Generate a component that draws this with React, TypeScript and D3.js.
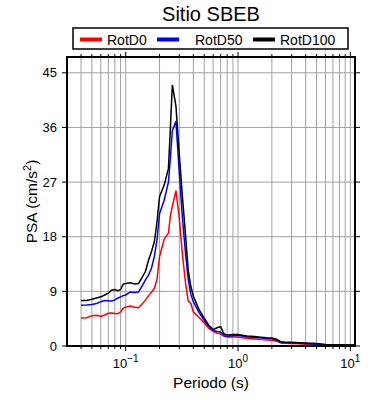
import * as d3 from "d3"

const periods = [
  0.04, 0.045, 0.05, 0.055, 0.06, 0.065, 0.07, 0.075, 0.08, 0.085, 0.09, 0.095, 0.1, 0.11, 0.12, 0.13,
  0.14, 0.15, 0.16, 0.17, 0.18, 0.19, 0.2, 0.22, 0.24, 0.25, 0.26, 0.28, 0.3, 0.32, 0.34, 0.36, 0.38,
  0.4, 0.45, 0.5, 0.55, 0.6, 0.65, 0.7, 0.75, 0.8, 0.9, 1.0, 1.2, 1.4, 1.6, 1.8, 2.0, 2.2, 2.4, 2.6,
  3.0, 3.5, 4, 5, 6, 7, 8, 9, 10, 11,
]

const rotD0 = [
  4.6, 4.65, 5.0, 5.05, 4.85, 5.1, 5.4, 5.45, 5.35, 5.3, 5.6, 6.2, 6.4, 6.6, 6.4, 6.3,
  6.9, 7.6, 8.3, 8.9, 9.5, 11.0, 14.7, 17.6, 18.6, 21.5, 23.0, 25.6, 21.0, 15.0, 10.5, 7.4, 7.0,
  5.6, 4.7, 3.8, 2.9, 2.4, 2.1, 2.0, 1.6, 1.5, 1.5, 1.5, 1.25, 1.15, 1.05, 1.0, 0.95, 0.8, 0.5, 0.45,
  0.4, 0.35, 0.3, 0.22, 0.15, 0.12, 0.1, 0.1, 0.1, 0.1,
]

const rotD50 = [
  6.7, 6.75, 6.85, 7.0, 7.3, 7.5, 7.45, 7.4, 7.6, 7.9, 8.1, 8.3, 8.4, 8.9, 8.8, 8.9,
  9.9, 10.9, 11.7, 12.9, 14.8, 17.5, 21.8, 24.0, 27.0, 31.0, 35.5, 37.0, 28.5, 21.0, 15.5, 11.0, 8.5,
  7.3, 5.5, 4.2, 3.2, 2.6, 2.4, 2.3, 1.7, 1.6, 1.7, 1.75, 1.5, 1.4, 1.3, 1.25, 1.2, 1.0, 0.6, 0.55,
  0.5, 0.45, 0.4, 0.3, 0.2, 0.18, 0.16, 0.15, 0.14, 0.13,
]

const rotD100 = [
  7.5, 7.5, 7.7, 7.9, 8.1, 8.4, 8.7, 9.2, 9.3, 9.1, 9.3, 10.2, 10.3, 10.4, 10.2, 10.3,
  11.3, 12.3, 14.2, 15.6, 17.2, 20.5, 24.6, 26.5, 29.2, 36.0, 43.0, 39.5, 31.5, 24.5, 18.5, 12.5, 9.8,
  8.2, 6.0, 4.6, 3.4, 2.7, 3.0, 3.2, 2.0, 1.8, 1.9, 1.9, 1.65, 1.55, 1.45, 1.35, 1.3, 1.1, 0.7, 0.65,
  0.6, 0.55, 0.5, 0.4, 0.25, 0.22, 0.2, 0.2, 0.18, 0.17,
]

const seriesNames = ["RotD0", "RotD50", "RotD100"]
const seriesColors = ["#ff0000", "#0000ff", "#000000"]
const yTicks = [0, 9, 18, 27, 36, 45]
const xMajor = [0.1, 1, 10]

const W = 390
const H = 400
const left = 67
const right = 355
const top = 57
const bottom = 346
const font = "'Liberation Sans', Arial, Helvetica, sans-serif"

export default function App() {
  const x = d3.scaleLog().domain([0.03, 11]).range([left, right])
  const y = d3.scaleLinear().domain([0, 47.6]).range([bottom, top])

  // minor grid: 1..9 per decade inside domain
  const gridX: number[] = []
  for (let e = -2; e <= 1; e++) {
    for (let m = 1; m <= 9; m++) {
      const v = m * Math.pow(10, e)
      if (v > 0.03 && v < 11) gridX.push(v)
    }
  }

  const line = d3
    .line<number>()
    .x((_, i) => x(periods[i]))
    .y((d) => y(d))

  const allSeries = [rotD0, rotD50, rotD100]
  const legendX = [80, 157, 253]

  return (
    <div style={{ position: "absolute", left: 0, top: 0 }}>
      <svg width={W} height={H} style={{ display: "block", background: "#fff" }} fontFamily={font}>
        {/* Title */}
        <text x={(left + right) / 2} y={21} textAnchor="middle" fontSize={20}>
          Sitio SBEB
        </text>

        {/* Grid */}
        {gridX.map((v) => (
          <line key={"gx" + v} x1={x(v)} x2={x(v)} y1={top} y2={bottom} stroke="#a0a0a0" strokeWidth={1} />
        ))}
        {yTicks.slice(1).map((v) => (
          <line key={"gy" + v} x1={left} x2={right} y1={y(v)} y2={y(v)} stroke="#a0a0a0" strokeWidth={1} />
        ))}

        {/* Ticks */}
        {gridX.map((v) => {
          const major = xMajor.includes(v)
          const len = major ? 5 : 3
          return (
            <g key={"tx" + v}>
              <line x1={x(v)} x2={x(v)} y1={bottom} y2={bottom + len} stroke="#000" />
              <line x1={x(v)} x2={x(v)} y1={top} y2={top - len} stroke="#000" />
            </g>
          )
        })}
        {yTicks.map((v) => (
          <g key={"ty" + v}>
            <line x1={left - 5} x2={left} y1={y(v)} y2={y(v)} stroke="#000" />
            <line x1={right} x2={right + 5} y1={y(v)} y2={y(v)} stroke="#000" />
            <text x={left - 10} y={y(v) + 4.5} textAnchor="end" fontSize={13}>
              {v}
            </text>
          </g>
        ))}
        {xMajor.map((v, i) => (
          <text key={"lx" + v} x={x(v)} y={368} textAnchor="middle" fontSize={13}>
            10
            <tspan dy={-6} fontSize={10}>
              {["\u22121", "0", "1"][i]}
            </tspan>
          </text>
        ))}

        {/* Curves */}
        {allSeries.map((s, i) => (
          <path key={seriesNames[i]} d={line(s) || ""} fill="none" stroke={seriesColors[i]} strokeWidth={1.5} />
        ))}

        {/* Frame */}
        <rect x={left} y={top} width={right - left} height={bottom - top} fill="none" stroke="#000" strokeWidth={2} />

        {/* Axis titles */}
        <text x={(left + right) / 2} y={388} textAnchor="middle" fontSize={15.5}>
          Periodo (s)
        </text>
        <text transform={`translate(37,${(top + bottom) / 2}) rotate(-90)`} textAnchor="middle" fontSize={15.5}>
          PSA (cm/s
          <tspan dy={-6} fontSize={11}>
            2
          </tspan>
          <tspan dy={6}>)</tspan>
        </text>

        {/* Legend */}
        <rect x={73} y={28} width={275} height={21} fill="#fff" stroke="#000" strokeWidth={1.5} />
        {seriesNames.map((n, i) => (
          <g key={"lg" + n}>
            <line x1={legendX[i]} x2={legendX[i] + 22} y1={39.5} y2={39.5} stroke={seriesColors[i]} strokeWidth={4} />
            <text x={legendX[i] + (i === 1 ? 38 : 27)} y={44.5} fontSize={14}>
              {n}
            </text>
          </g>
        ))}
      </svg>
    </div>
  )
}
